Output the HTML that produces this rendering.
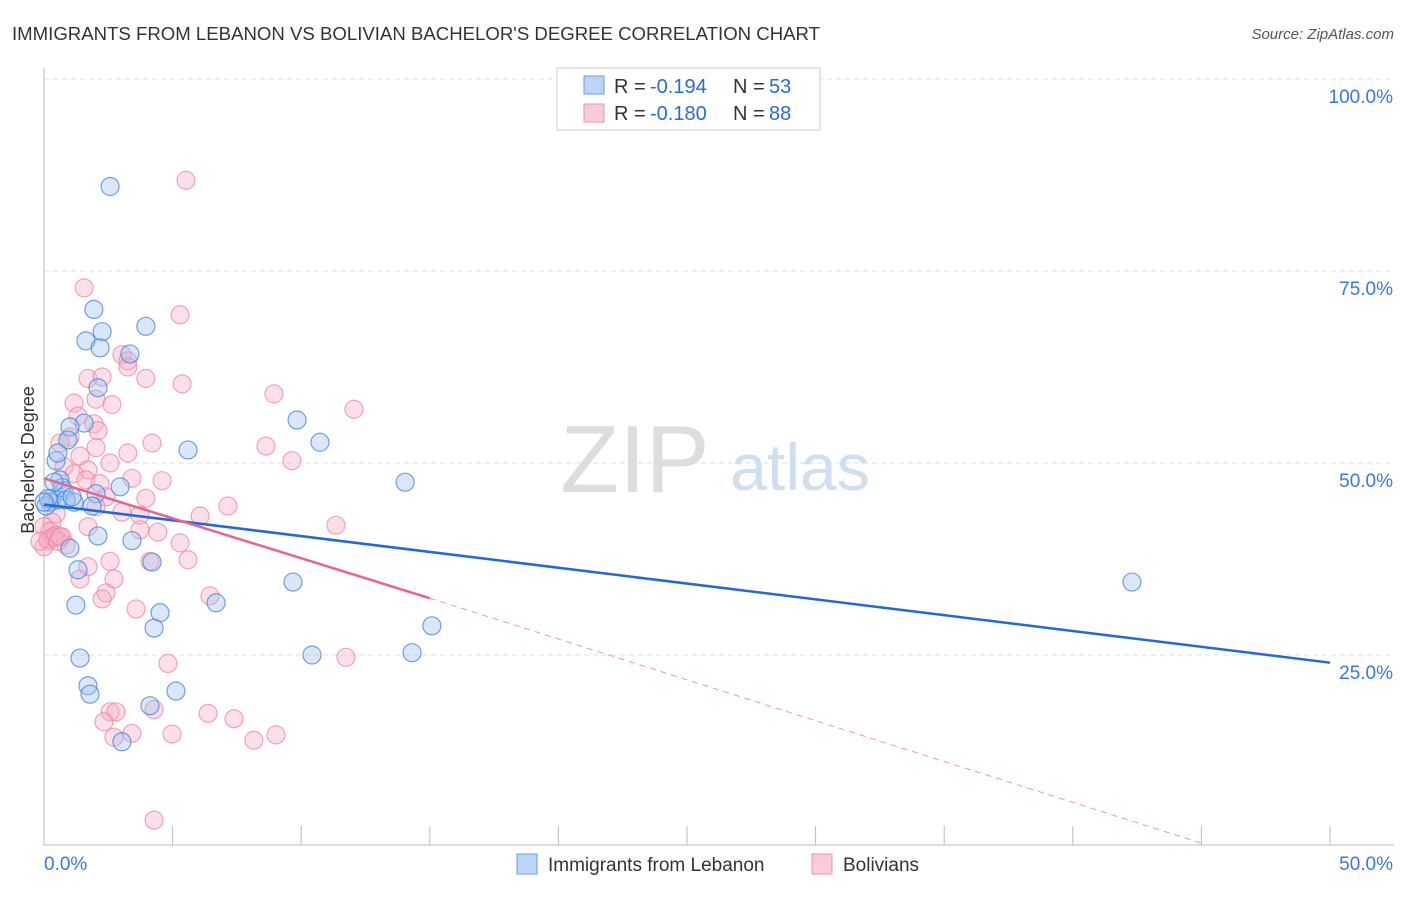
<!DOCTYPE html>
<html><head><meta charset="utf-8"><style>
body{margin:0;background:#fff;font-family:"Liberation Sans",sans-serif;}
svg text{font-family:"Liberation Sans",sans-serif;}
</style></head><body>
<svg id="chart" width="1406" height="892">
<text x="12" y="40" font-size="18" fill="#333" textLength="808" lengthAdjust="spacingAndGlyphs">IMMIGRANTS FROM LEBANON VS BOLIVIAN BACHELOR'S DEGREE CORRELATION CHART</text>
<text x="1394" y="39" font-size="15" fill="#555" font-style="italic" text-anchor="end">Source: ZipAtlas.com</text>
<g id="grid"></g>
<text x="635" y="492" font-size="96" fill="#ddd" font-family="Liberation Serif" text-anchor="middle">ZIP</text>
<text x="800" y="490" font-size="66" fill="#cfdff0" text-anchor="middle">atlas</text>
<g id="pts"></g>
<g id="lines"></g>
<text x="34" y="460" font-size="18" fill="#333" text-anchor="middle" transform="rotate(-90 34 460)">Bachelor's Degree</text>
<g>
<rect x="557" y="68" width="263" height="62" fill="#fff" stroke="#ccc"/>
<rect x="584" y="76" width="20" height="18" fill="#bcd4f5" stroke="#6d9be0"/>
<rect x="584" y="104" width="20" height="18" fill="#fbcbd9" stroke="#ee93ad"/>
<text x="614" y="93" font-size="20" fill="#333">R =</text>
<text x="650" y="93" font-size="20" fill="#2a6bd6">-0.194</text>
<text x="733" y="93" font-size="20" fill="#333">N =</text>
<text x="769" y="93" font-size="20" fill="#2a6bd6">53</text>
<text x="614" y="120" font-size="20" fill="#333">R =</text>
<text x="650" y="120" font-size="20" fill="#2a6bd6">-0.180</text>
<text x="733" y="120" font-size="20" fill="#333">N =</text>
<text x="769" y="120" font-size="20" fill="#2a6bd6">88</text>
</g>
<g>
<rect x="517" y="854" width="20" height="20" fill="#bcd4f5" stroke="#6d9be0"/>
<text x="548" y="871" font-size="19" fill="#333">Immigrants from Lebanon</text>
<rect x="812" y="854" width="20" height="20" fill="#fbcbd9" stroke="#ee93ad"/>
<text x="843" y="871" font-size="19" fill="#333">Bolivians</text>
</g>
</svg>
<script>
const yTicks=[25,50,75,100];
const yTickLabels=["25.0%","50.0%","75.0%","100.0%"];
const xTicks=[0,5,10,15,20,25,30,35,40,45,50];
const blueX=[2.57,1.94,3.96,2.26,1.63,2.18,3.34,2.10,9.84,1.56,1.01,0.93,10.73,5.60,0.47,14.04,0.62,2.96,0.78,2.02,0.31,1.17,1.87,0.23,0.54,3.42,2.10,1.01,4.20,1.32,9.68,42.30,1.24,6.69,4.51,4.28,15.08,1.40,10.42,14.31,1.71,1.79,5.13,4.12,3.03,0.08,0.16,0.70,0.86,0.39,1.09,0.00,0.54];
const blueY=[86.0,70.0,67.8,67.1,65.9,65.0,64.2,59.8,55.6,55.2,54.7,53.0,52.7,51.7,50.3,47.5,47.8,46.9,46.4,46.0,45.4,44.9,44.4,44.9,45.2,39.9,40.5,38.9,37.1,36.1,34.5,34.5,31.5,31.8,30.5,28.5,28.8,24.6,25.0,25.3,21.0,19.9,20.3,18.4,13.7,44.4,45.4,46.8,45.2,47.5,45.6,44.9,51.3];
const pinkX=[5.52,1.56,5.29,3.03,3.26,3.26,3.96,1.71,2.26,5.37,8.94,2.02,1.17,2.64,12.05,1.32,1.94,1.01,2.10,0.62,4.20,8.63,2.02,3.26,1.40,9.64,2.57,0.78,1.71,1.17,3.42,4.59,1.63,2.18,2.41,3.96,7.15,0.47,3.03,2.02,3.73,6.07,0.31,1.71,4.43,3.73,11.35,0.00,0.23,0.47,0.70,0.16,0.00,5.29,0.86,2.57,4.12,5.60,1.71,1.40,2.72,2.41,2.26,6.45,3.58,4.82,11.74,2.57,2.80,4.28,2.33,6.38,7.39,2.72,3.42,4.98,8.16,9.02,4.28,0.16,0.39,-0.16,0.54,0.62];
const pinkY=[86.8,72.8,69.3,64.1,63.3,62.5,61.0,61.0,61.2,60.3,59.0,58.3,57.8,57.6,57.0,56.1,55.1,53.4,54.2,52.6,52.6,52.2,52.0,51.3,50.9,50.3,50.0,49.5,49.1,48.6,48.0,47.7,47.8,47.3,45.6,45.4,44.4,43.4,43.6,44.3,43.2,43.1,42.3,41.7,41.0,41.3,41.9,41.7,41.1,40.6,40.4,39.8,39.1,39.6,39.3,37.2,37.2,37.4,36.5,34.9,34.9,33.1,32.3,32.7,31.0,23.9,24.7,17.6,17.6,17.9,16.3,17.4,16.7,14.3,14.8,14.7,13.9,14.6,3.5,40.1,40.4,39.8,39.8,40.4];
const X0=44,X1=1330,Y0=847,YS=7.68;
const xs=v=>X0+(v/50)*(X1-X0), ys=v=>Y0-v*YS;
const NS="http://www.w3.org/2000/svg";
function mk(t,a,p){const e=document.createElementNS(NS,t);for(const k in a)e.setAttribute(k,a[k]);p.appendChild(e);return e;}
const grid=document.getElementById('grid');
mk('line',{x1:44,y1:68,x2:44,y2:845,stroke:'#bbb'},grid);
mk('line',{x1:44,y1:845,x2:1394,y2:845,stroke:'#bbb'},grid);
yTicks.forEach((t,i)=>{
 const g=mk('line',{x1:44,y1:ys(t),x2:1394,y2:ys(t),stroke:'#ddd','stroke-dasharray':'5,4'},grid);
 
 
 const tx=mk('text',{x:1393,y:ys(t)+24,'font-size':19,fill:'#3a78d8','text-anchor':'end'},grid);
 tx.textContent=yTickLabels[i];
 
 
});
xTicks.forEach(t=>{const l=mk('line',{x1:xs(t),y1:826,x2:xs(t),y2:845,stroke:'#bbb'},grid);
 
 });
[["0.0%",44,'start'],["50.0%",1393,'end']].forEach(a=>{const tx=mk('text',{x:a[1],y:870,'font-size':19,fill:'#3a78d8','text-anchor':a[2]},grid);tx.textContent=a[0];
 
 });
const pts=document.getElementById('pts');
pinkX.forEach((v,i)=>{const c=mk('circle',{cx:xs(v),cy:ys(pinkY[i]),r:9,fill:'rgba(248,176,198,0.4)',stroke:'rgba(236,130,160,0.7)','stroke-width':1.2},pts);
 
 });
blueX.forEach((v,i)=>{const c=mk('circle',{cx:xs(v),cy:ys(blueY[i]),r:9,fill:'rgba(160,195,240,0.4)',stroke:'rgba(70,130,220,0.75)','stroke-width':1.2},pts);
 
 });
const lines=document.getElementById('lines');
const b=mk('line',{x1:xs(0),y1:ys(44.6),x2:xs(50),y2:ys(24.0),stroke:'#1f6ad6','stroke-width':2.5},lines);


const p=mk('line',{x1:xs(0),y1:ys(48.0),x2:xs(15),y2:ys(32.4),stroke:'#e8648f','stroke-width':2.5},lines);


const pd=mk('line',{x1:xs(15),y1:ys(32.4),x2:xs(45),y2:ys(0.5),stroke:'#ee94b0','stroke-width':1,'stroke-dasharray':'6,5'},lines);


</script>
</body></html>
